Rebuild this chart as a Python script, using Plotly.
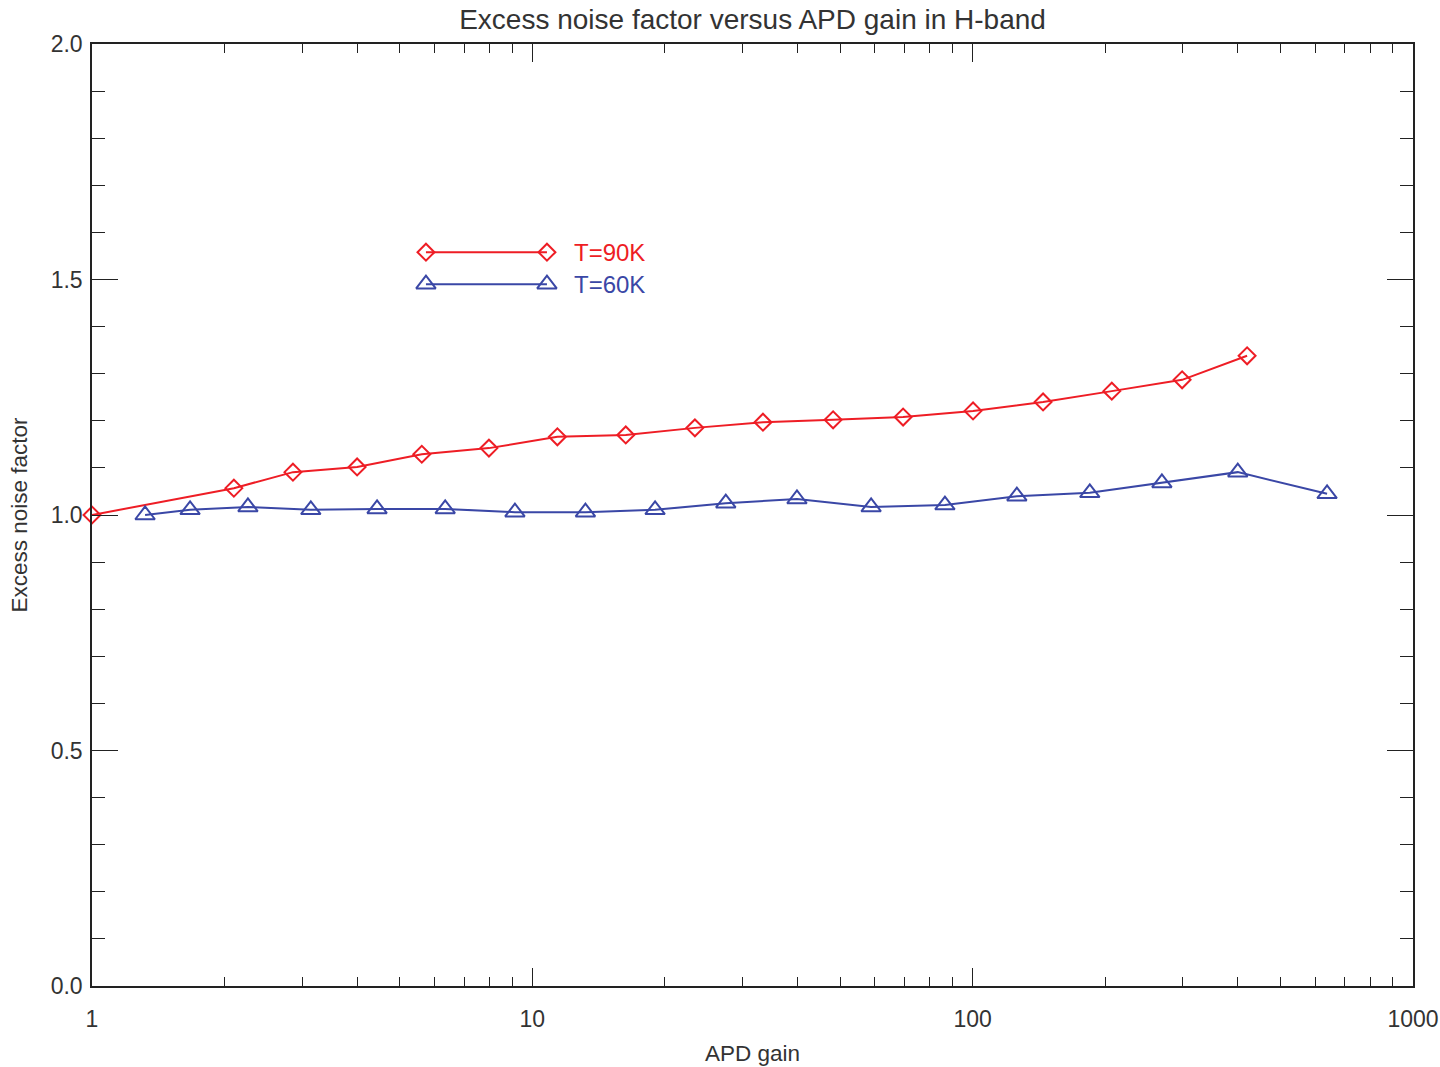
import plotly.graph_objects as go

# ---- data ----
gain_90k = [1.0, 2.10, 2.86, 4.0, 5.61, 7.97, 11.4, 16.3, 23.4, 33.4, 48.2, 69.5, 100.2, 144.5, 207, 299, 420]
enf_90k = [1.000, 1.057, 1.091, 1.102, 1.129, 1.142, 1.166, 1.170, 1.185, 1.197, 1.202, 1.208, 1.221, 1.240, 1.263, 1.287, 1.338]

gain_60k = [1.32, 1.67, 2.26, 3.14, 4.44, 6.34, 9.13, 13.2, 19.0, 27.5, 39.9, 58.8, 86.5, 126, 184.5, 269, 400, 638]
enf_60k = [1.000, 1.011, 1.017, 1.011, 1.013, 1.013, 1.006, 1.006, 1.011, 1.025, 1.034, 1.017, 1.021, 1.040, 1.047, 1.068, 1.091, 1.045]

series_names = ["T=90K", "T=60K"]
x_major = [1, 10, 100, 1000]
x_major_text = ["1", "10", "100", "1000"]
x_minor = [2, 3, 4, 5, 6, 7, 8, 9, 20, 30, 40, 50, 60, 70, 80, 90, 200, 300, 400, 500, 600, 700, 800, 900]
y_major = [0.0, 0.5, 1.0, 1.5, 2.0]
y_major_text = ["0.0", "0.5", "1.0", "1.5", "2.0"]

RED = "#EE1D25"
BLUE = "#3A47A6"
AX = "#222222"
TXT = "#333333"
FONT = "Liberation Sans"

fig = go.Figure()

fig.add_trace(go.Scatter(
    x=gain_90k, y=enf_90k, mode="lines+markers", name=series_names[0],
    line=dict(color=RED, width=2),
    marker=dict(symbol="diamond-open", size=13, color=RED, line=dict(width=2, color=RED)),
    cliponaxis=False, showlegend=False))
fig.add_trace(go.Scatter(
    x=gain_60k, y=enf_60k, mode="lines+markers", name=series_names[1],
    line=dict(color=BLUE, width=2),
    marker=dict(symbol="triangle-up-open", size=17, color=BLUE, line=dict(width=2, color=BLUE)),
    cliponaxis=False, showlegend=False))

# ---- custom legend (IDL style: line with symbol at both ends), drawn on an overlay 0..1 axis ----
leg_x0, leg_x1, leg_tx = 0.2528, 0.3444, 0.3634
leg_rows = [(0.779, RED, "diamond-open", 13), (0.745, BLUE, "triangle-up-open", 17)]
for (yy, col, sym, sz), nm in zip(leg_rows, series_names):
    fig.add_trace(go.Scatter(
        x=[leg_x0, leg_x1], y=[yy, yy], xaxis="x2", yaxis="y2", mode="lines+markers",
        line=dict(color=col, width=2),
        marker=dict(symbol=sym, size=sz, color=col, line=dict(width=2, color=col)),
        showlegend=False, hoverinfo="skip", cliponaxis=False))
    fig.add_annotation(x=leg_tx, y=yy, xref="x2", yref="y2", text=nm, showarrow=False,
                       xanchor="left", yanchor="middle", font=dict(family=FONT, size=24, color=col))

fig.update_layout(
    width=1440, height=1067,
    margin=dict(l=92, r=27, t=44, b=81, autoexpand=False),
    paper_bgcolor="white", plot_bgcolor="white",
    font=dict(family=FONT, color=TXT),
    title=dict(text="Excess noise factor versus APD gain in H-band", x=0.5226, xanchor="center",
               y=0.982, yanchor="middle", font=dict(family=FONT, size=28, color=TXT)),
    xaxis=dict(type="log", range=[0, 3], tickmode="array", tickvals=x_major, ticktext=x_major_text,
               ticks="inside", ticklen=18, tickwidth=1.2, tickcolor=AX, automargin=False,
               minor=dict(tickmode="array", tickvals=x_minor, ticks="inside", ticklen=9,
                          tickwidth=1.2, tickcolor=AX, showgrid=False),
               showline=True, linecolor=AX, linewidth=1.5, mirror="ticks", showgrid=False, zeroline=False,
               tickfont=dict(family=FONT, size=23, color=TXT), ticklabelstandoff=12,
               title=dict(text="APD gain", font=dict(family=FONT, size=22.5, color=TXT), standoff=14)),
    yaxis=dict(range=[0, 2], tickmode="array", tickvals=y_major, ticktext=y_major_text,
               ticks="inside", ticklen=26, tickwidth=1.2, tickcolor=AX, automargin=False,
               minor=dict(dtick=0.1, tick0=0, ticks="inside", ticklen=13, tickwidth=1.2,
                          tickcolor=AX, showgrid=False),
               showline=True, linecolor=AX, linewidth=1.5, mirror="ticks", showgrid=False, zeroline=False,
               tickfont=dict(family=FONT, size=23, color=TXT), ticklabelstandoff=3,
               title=dict(text="Excess noise factor", font=dict(family=FONT, size=22.5, color=TXT), standoff=17)),
    xaxis2=dict(overlaying="x", range=[0, 1], visible=False, fixedrange=True),
    yaxis2=dict(overlaying="y", range=[0, 1], visible=False, fixedrange=True),
)

fig.write_html("out.html", config={"displayModeBar": False},
               post_script="document.body.style.margin='0';document.body.style.overflow='hidden';")
